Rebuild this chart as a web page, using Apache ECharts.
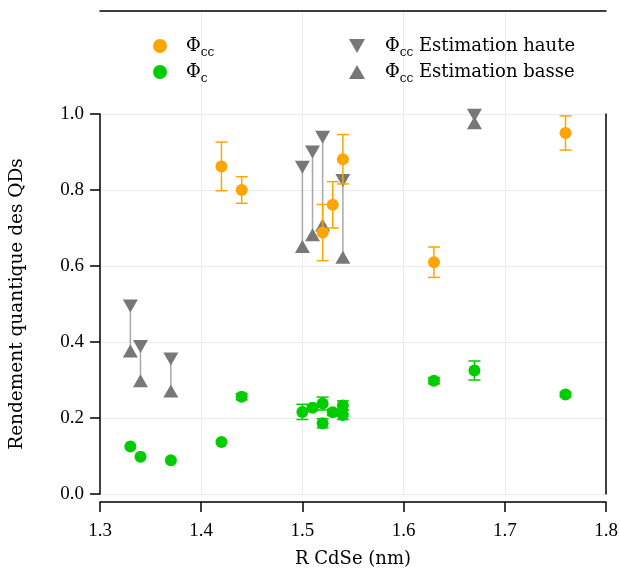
<!DOCTYPE html>
<html>
<head>
<meta charset="utf-8">
<script src="https://cdn.jsdelivr.net/npm/echarts@6/dist/echarts.min.js"></script>
<style>html,body{margin:0;padding:0;background:#fff}#c{width:620px;height:569px}</style>
</head>
<body>
<div id="c"></div>
<script>
// Φcc (orange) points with error bars
const xCC   = [1.42, 1.44, 1.52, 1.53, 1.54, 1.63, 1.76];
const yCC   = [0.862, 0.800, 0.688, 0.761, 0.881, 0.610, 0.950];
const errCC = [0.064, 0.035, 0.074, 0.061, 0.065, 0.040, 0.045];

// Φc (green) points with error bars
const xC   = [1.33, 1.34, 1.37, 1.42, 1.44, 1.50, 1.51, 1.52, 1.52, 1.53, 1.54, 1.54, 1.63, 1.67, 1.76];
const yC   = [0.125, 0.098, 0.089, 0.137, 0.256, 0.216, 0.227, 0.238, 0.186, 0.215, 0.233, 0.208, 0.298, 0.325, 0.262];
const errC = [0, 0, 0, 0, 0.008, 0.020, 0.005, 0.017, 0.012, 0.008, 0.012, 0.012, 0.008, 0.025, 0.006];

// Φcc estimations (high / low)
const xEst    = [1.33, 1.34, 1.37, 1.50, 1.51, 1.52, 1.54, 1.67];
const estHigh = [0.495, 0.388, 0.355, 0.860, 0.900, 0.939, 0.825, 0.997];
const estLow  = [0.376, 0.298, 0.271, 0.651, 0.682, 0.708, 0.623, 0.977];

const xTicks = [1.3, 1.4, 1.5, 1.6, 1.7, 1.8];
const yTicks = [0.0, 0.2, 0.4, 0.6, 0.8, 1.0];

const FONT = 'Liberation Serif';
const TFONT = 'DejaVu Serif';
const ORANGE = '#ffa500';
const GREEN = '#00cc00';
const GRAY = '#777777';

const names = {
  cc: 'Φcc', c: 'Φc', hi: 'Φcc Estimation haute', lo: 'Φcc Estimation basse'
};
const legendFmt = {
  'Φcc': '{m|Φ}{s|cc}',
  'Φc': '{m|Φ}{s|c}',
  'Φcc Estimation haute': '{m|Φ}{s|cc}{m| Estimation haute}',
  'Φcc Estimation basse': '{m|Φ}{s|cc}{m| Estimation basse}'
};
const richStyle = {
  m: {fontFamily: TFONT, fontSize: 18, color: '#000', lineHeight: 26, verticalAlign: 'middle'},
  s: {fontFamily: TFONT, fontSize: 12, color: '#000', lineHeight: 14, verticalAlign: 'bottom'}
};

function errRender(color) {
  return function (params, api) {
    const x = api.value(0), lo = api.value(1), hi = api.value(2);
    const a = api.coord([x, lo]), b = api.coord([x, hi]);
    const w = 6;
    const st = {stroke: color, lineWidth: 1.5};
    return {type: 'group', children: [
      {type: 'line', shape: {x1: a[0], y1: a[1], x2: b[0], y2: b[1]}, style: st},
      {type: 'line', shape: {x1: a[0]-w, y1: a[1], x2: a[0]+w, y2: a[1]}, style: st},
      {type: 'line', shape: {x1: b[0]-w, y1: b[1], x2: b[0]+w, y2: b[1]}, style: st}
    ]};
  };
}
function connRender(params, api) {
  const x = api.value(0), lo = api.value(1), hi = api.value(2);
  const a = api.coord([x, lo]), b = api.coord([x, hi]);
  return {type: 'line', shape: {x1: a[0], y1: a[1], x2: b[0], y2: b[1]},
          style: {stroke: '#a8a8a8', lineWidth: 1.5}};
}

const errCCData = xCC.map((x, i) => [x, yCC[i] - errCC[i], yCC[i] + errCC[i]]);
const errCData = xC.map((x, i) => [x, yC[i] - errC[i], yC[i] + errC[i]]).filter(d => d[2] > d[1]);
const connData = xEst.map((x, i) => [x, estLow[i], estHigh[i]]);

const labelStyle = {fontFamily: FONT, fontSize: 19, color: '#000'};
const downTri = 'path://M0,0 L10,0 L5,8.7 Z';
const upTri = 'path://M5,0 L10,8.7 L0,8.7 Z';

const option = {
  animation: false,
  grid: [
    {left: 100, right: 14, top: 114, bottom: 75, outerBoundsMode: 'none', containLabel: false},
    {left: 100, right: 14, top: 11, bottom: 75, outerBoundsMode: 'none', containLabel: false}
  ],
  xAxis: [
    {gridIndex: 0, type: 'value', min: 1.3, max: 1.8, interval: 0.1, position: 'bottom', offset: 8,
     axisLine: {show: true, onZero: false, lineStyle: {color: '#000', width: 1.5}},
     axisTick: {show: true, length: 10, lineStyle: {color: '#000', width: 1.5}},
     axisLabel: Object.assign({margin: 20, formatter: v => v.toFixed(1)}, labelStyle),
     splitLine: {show: false},
     name: 'R CdSe (nm)', nameLocation: 'middle', nameGap: 48,
     nameTextStyle: {fontFamily: TFONT, fontSize: 18, color: '#000'}},
    {gridIndex: 1, type: 'value', min: 1.3, max: 1.8, interval: 0.1, position: 'top',
     axisLine: {show: true, onZero: false, lineStyle: {color: '#000', width: 1.5}},
     axisTick: {show: false}, axisLabel: {show: false},
     splitLine: {show: true, showMinLine: false, showMaxLine: false, lineStyle: {color: '#ebebeb', width: 1}}}
  ],
  yAxis: [
    {gridIndex: 0, type: 'value', min: 0, max: 1, interval: 0.2, position: 'left',
     axisLine: {show: true, onZero: false, lineStyle: {color: '#000', width: 1.5}},
     axisTick: {show: true, length: 10, lineStyle: {color: '#000', width: 1.5}},
     axisLabel: Object.assign({margin: 16, formatter: v => v.toFixed(1)}, labelStyle),
     splitLine: {show: true, lineStyle: {color: '#ebebeb', width: 1}},
     name: 'Rendement quantique des QDs', nameLocation: 'middle', nameGap: 73, nameRotate: 90,
     nameTextStyle: {fontFamily: TFONT, fontSize: 18.5, color: '#000'}},
    {gridIndex: 0, type: 'value', min: 0, max: 1, position: 'right',
     axisLine: {show: true, onZero: false, lineStyle: {color: '#000', width: 1.5}},
     axisTick: {show: false}, axisLabel: {show: false}, splitLine: {show: false}},
    {gridIndex: 1, type: 'value', min: 0, max: 1, show: false}
  ],
  legend: [
    {data: [{name: names.cc, icon: 'circle'}, {name: names.c, icon: 'circle'}], orient: 'vertical', left: 148, top: 32,
     itemWidth: 14, itemHeight: 14, itemGap: 4, formatter: n => legendFmt[n],
     textStyle: {padding: [0, 0, 0, 14], rich: richStyle}},
    {data: [{name: names.hi, icon: downTri}, {name: names.lo, icon: upTri}], orient: 'vertical', left: 344, top: 32,
     itemWidth: 16, itemHeight: 14, itemGap: 4, formatter: n => legendFmt[n],
     textStyle: {padding: [0, 0, 0, 15], rich: richStyle}}
  ],
  series: [
    {type: 'custom', name: 'conn', xAxisIndex: 0, yAxisIndex: 0, renderItem: connRender, data: connData, z: 1, clip: false, silent: true},
    {type: 'scatter', name: names.hi, xAxisIndex: 0, yAxisIndex: 0, data: xEst.map((x, i) => [x, estHigh[i]]),
     symbol: 'triangle', symbolRotate: 180, symbolSize: [15, 13], itemStyle: {color: GRAY, opacity: 1}, z: 2, clip: false},
    {type: 'scatter', name: names.lo, xAxisIndex: 0, yAxisIndex: 0, data: xEst.map((x, i) => [x, estLow[i]]),
     symbol: 'triangle', symbolSize: [15, 13], itemStyle: {color: GRAY, opacity: 1}, z: 2, clip: false},
    {type: 'custom', name: 'errcc', xAxisIndex: 0, yAxisIndex: 0, renderItem: errRender(ORANGE), data: errCCData, z: 3, clip: false, silent: true},
    {type: 'scatter', name: names.cc, xAxisIndex: 0, yAxisIndex: 0, data: xCC.map((x, i) => [x, yCC[i]]),
     symbol: 'circle', symbolSize: 12, itemStyle: {color: ORANGE, opacity: 1}, z: 4, clip: false},
    {type: 'custom', name: 'errc', xAxisIndex: 0, yAxisIndex: 0, renderItem: errRender(GREEN), data: errCData, z: 3, clip: false, silent: true},
    {type: 'scatter', name: names.c, xAxisIndex: 0, yAxisIndex: 0, data: xC.map((x, i) => [x, yC[i]]),
     symbol: 'circle', symbolSize: 12, itemStyle: {color: GREEN, opacity: 1}, z: 4, clip: false}
  ]
};
const chart = echarts.init(document.getElementById('c'), null, {renderer: 'canvas'});
chart.setOption(option);
</script>
</body>
</html>
